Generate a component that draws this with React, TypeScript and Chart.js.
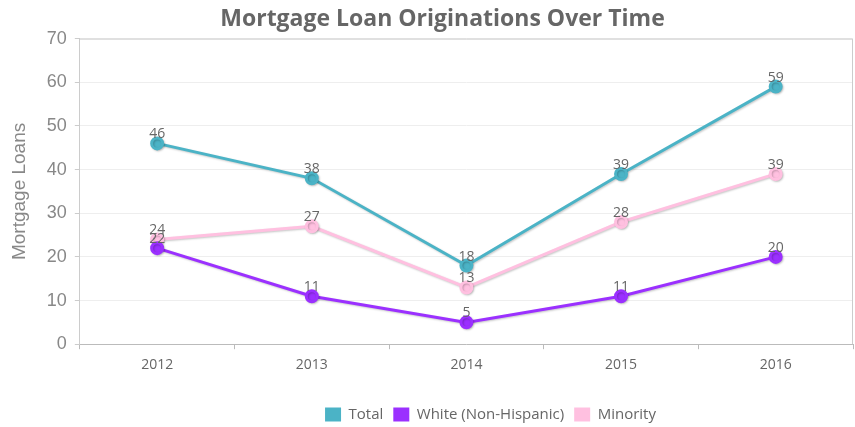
import React, { useEffect, useRef } from "react";
import { Chart, registerables } from "chart.js";

Chart.register(...registerables);

const years = ["2012", "2013", "2014", "2015", "2016"];
const totalValues = [46, 38, 18, 39, 59];
const whiteValues = [22, 11, 5, 11, 20];
const minorityValues = [24, 27, 13, 28, 39];
const yTicks = [0, 10, 20, 30, 40, 50, 60, 70];

const labelPlugin = {
  id: "pointLabels",
  afterLayout(chart: any) {
    const lg = chart.legend;
    if (lg) {
      lg.left += 60;
      lg.right += 60;
    }
    const tb = chart.titleBlock;
    if (tb) {
      tb.left += 12;
      tb.right += 12;
    }
  },
  beforeDatasetDraw(chart: any) {
    const ctx = chart.ctx;
    ctx.save();
    ctx.shadowColor = "rgba(0,0,0,0.22)";
    ctx.shadowOffsetX = 1;
    ctx.shadowOffsetY = 1;
    ctx.shadowBlur = 2;
  },
  afterDatasetDraw(chart: any) {
    chart.ctx.restore();
  },
  afterDatasetsDraw(chart: any) {
    const ctx = chart.ctx;
    ctx.save();
    ctx.font = "14px 'Open Sans'";
    ctx.fillStyle = "#666";
    ctx.textAlign = "center";
    ctx.textBaseline = "bottom";
    chart.data.datasets.forEach((ds: any, i: number) => {
      const meta = chart.getDatasetMeta(i);
      meta.data.forEach((pt: any, j: number) => {
        ctx.fillText(String(ds.data[j]), pt.x, pt.y - 2);
      });
    });
    ctx.restore();
  },
  afterDraw(chart: any) {
    const { ctx, chartArea } = chart;
    ctx.save();
    ctx.strokeStyle = "#ccc";
    ctx.lineWidth = 1;
    const r = Math.min(chartArea.right, 852) + 0.5;
    ctx.beginPath();
    ctx.moveTo(chartArea.left, chartArea.top + 0.5);
    ctx.lineTo(r, chartArea.top + 0.5);
    ctx.lineTo(r, chartArea.bottom);
    ctx.stroke();
    ctx.restore();
  },
};

export default function App() {
  const ref = useRef<HTMLCanvasElement>(null);
  useEffect(() => {
    document.body.style.margin = "0";
    const mk = (label: string, data: number[], color: string) => ({
      label,
      data,
      borderColor: color,
      backgroundColor: color,
      pointBackgroundColor: color,
      pointBorderColor: color,
      borderWidth: 3,
      pointRadius: 5.5,
      pointHoverRadius: 5.5,
      tension: 0,
    });
    const chart = new Chart(ref.current!, {
      type: "line",
      data: {
        labels: years,
        datasets: [
          mk("Total", totalValues, "#4bb3c6"),
          mk("White (Non-Hispanic)", whiteValues, "#9b30ff"),
          mk("Minority", minorityValues, "#ffc0e0"),
        ],
      },
      options: {
        animation: false,
        responsive: false,
        maintainAspectRatio: false,
        layout: {
          autoPadding: false,
          padding: { left: 8, right: 2, top: 0, bottom: -5 },
        },
        plugins: {
          title: {
            display: true,
            text: "Mortgage Loan Originations Over Time",
            color: "#666",
            font: { family: "'Open Sans'", size: 23, weight: "bold" },
            padding: { top: 6, bottom: 5 },
          },
          legend: {
            position: "bottom",
            labels: {
              color: "#666",
              font: { family: "'Open Sans'", size: 15 },
              boxWidth: 16,
              boxHeight: 14,
              padding: 10,
              generateLabels: (c: any) =>
                c.data.datasets.map((d: any, i: number) => ({
                  text: d.label,
                  fillStyle: d.borderColor,
                  strokeStyle: d.borderColor,
                  lineWidth: 0,
                  fontColor: "#666",
                  datasetIndex: i,
                })),
            },
          },
          tooltip: { enabled: false },
        },
        scales: {
          x: {
            offset: true,
            grid: {
              offset: true,
              drawOnChartArea: false,
              drawTicks: true,
              tickLength: 5,
              color: "#bbb",
            },
            border: { color: "#bbb" },
            ticks: {
              color: "#666",
              font: { family: "'Open Sans'", size: 14 },
              padding: 7,
            },
            afterFit: (axis: any) => {
              axis.height += 17;
            },
          },
          y: {
            min: 0,
            max: 70,
            afterBuildTicks: (axis: any) => {
              axis.ticks = yTicks.map((v) => ({ value: v }));
            },
            grid: { color: "#eee", tickColor: "#ccc", tickLength: 5 },
            border: { color: "#ccc" },
            ticks: {
              color: "#888",
              font: { family: "'Liberation Sans'", size: 18 },
              padding: 8,
            },
            title: {
              display: true,
              text: "Mortgage Loans",
              color: "#888",
              font: { family: "'Liberation Sans'", size: 19 },
              padding: { top: 0, bottom: 8 },
            },
          },
        },
      },
      plugins: [labelPlugin],
    } as any);
    return () => chart.destroy();
  }, []);
  return (
    <div style={{ width: 855, height: 427 }}>
      <canvas ref={ref} width={855} height={427} />
    </div>
  );
}
